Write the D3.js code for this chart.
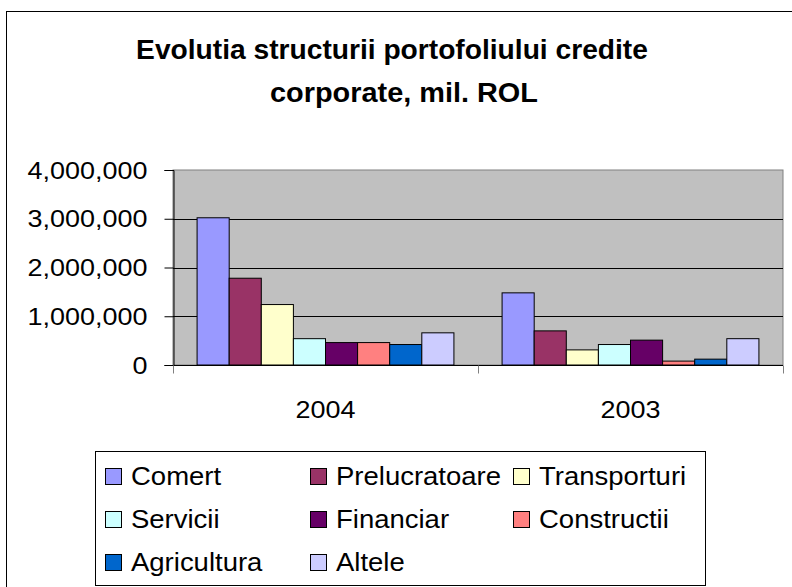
<!DOCTYPE html>
<html>
<head>
<meta charset="utf-8">
<script src="https://cdn.jsdelivr.net/npm/d3@7/dist/d3.min.js"></script>
<style>
  html, body { margin: 0; padding: 0; background: #fff; }
  svg { display: block; }
  text { font-family: "Liberation Sans", Arial, sans-serif; fill: #000; }
</style>
</head>
<body>
<svg id="chart" width="792" height="587"></svg>
<script>
// ---- data ----
const titleLines = ["Evolutia structurii portofoliului credite", "corporate, mil. ROL"];
const categories = ["2004", "2003"];
const seriesNames = ["Comert", "Prelucratoare", "Transporturi", "Servicii", "Financiar", "Constructii", "Agricultura", "Altele"];
const seriesColors = ["#9999FF", "#993366", "#FFFFCC", "#CCFFFF", "#660066", "#FF8080", "#0066CC", "#CCCCFF"];
const values2004 = [3020000, 1780000, 1240000, 540000, 460000, 460000, 420000, 660000];
const values2003 = [1480000, 700000, 310000, 420000, 510000, 80000, 120000, 540000];
const yTicks = [0, 1000000, 2000000, 3000000, 4000000];

const valuesByCat = { "2004": values2004, "2003": values2003 };

// ---- layout ----
const svg = d3.select("#chart");
const plot = { x0: 173, x1: 783, y0: 170, y1: 365 };

// outer border
svg.append("rect").attr("x", 6.5).attr("y", 11.5).attr("width", 800).attr("height", 600)
  .attr("fill", "#fff").attr("stroke", "#000").attr("stroke-width", 1);

function stretchedText(parent, x, y, str, anchor, size, weight, sx) {
  const g = parent.append("g").attr("transform", `translate(${x},${y}) scale(${sx},1)`);
  g.append("text").attr("x", 0).attr("y", 0).attr("text-anchor", anchor)
    .style("font-size", size + "px").style("font-weight", weight || "normal").text(str);
  return g;
}

// title
stretchedText(svg, 392, 59, titleLines[0], "middle", 27.5, "bold", 1.025);
stretchedText(svg, 404, 102, titleLines[1], "middle", 27.5, "bold", 1.05);

// scales
const x0 = d3.scaleBand().domain(categories).range([plot.x0, plot.x1]).paddingInner(0).paddingOuter(0);
const gap = x0.bandwidth() * 0.75 / 9.5;
const x1 = d3.scaleBand().domain(seriesNames).range([gap, x0.bandwidth() - gap]).padding(0);
const y = d3.scaleLinear().domain([0, 4000000]).range([plot.y1, plot.y0]);
const color = d3.scaleOrdinal().domain(seriesNames).range(seriesColors);

// plot background
svg.append("rect").attr("x", plot.x0).attr("y", plot.y0)
  .attr("width", plot.x1 - plot.x0).attr("height", plot.y1 - plot.y0)
  .attr("fill", "#C0C0C0").attr("stroke", "#808080").attr("stroke-width", 1);

// gridlines
svg.append("g").selectAll("line").data(yTicks.filter(d => d > 0 && d < 4000000)).join("line")
  .attr("x1", plot.x0).attr("x2", plot.x1)
  .attr("y1", d => Math.round(y(d)) + 0.5).attr("y2", d => Math.round(y(d)) + 0.5)
  .attr("stroke", "#000").attr("stroke-width", 1);

// bars
const groups = svg.append("g").selectAll("g").data(categories).join("g")
  .attr("transform", d => `translate(${x0(d)},0)`);
groups.selectAll("rect").data(c => seriesNames.map((s, i) => ({ s, v: valuesByCat[c][i] }))).join("rect")
  .attr("x", d => x1(d.s)).attr("width", x1.bandwidth())
  .attr("y", d => y(d.v)).attr("height", d => y(0) - y(d.v))
  .attr("fill", d => color(d.s)).attr("stroke", "#000").attr("stroke-width", 1);

// y axis
const yAxis = svg.append("g").attr("transform", `translate(${plot.x0 + 0.5},0)`)
  .call(d3.axisLeft(y).tickValues(yTicks).tickFormat(d3.format(",")).tickSize(9).tickPadding(0));
yAxis.select(".domain").attr("stroke", "#000");
yAxis.selectAll(".tick line").attr("stroke", "#000");
yAxis.selectAll(".tick text")
  .attr("x", 0).attr("dy", null).attr("y", 8)
  .attr("transform", `translate(-26,0) scale(1.1,1)`)
  .style("font-size", "24.5px").attr("fill", "#000").attr("font-family", null);

// x axis
const xAxis = svg.append("g").attr("transform", `translate(0,${plot.y1 + 0.5})`);
xAxis.append("line").attr("x1", plot.x0).attr("x2", plot.x1).attr("y1", 0).attr("y2", 0).attr("stroke", "#000");
const xTickPos = [plot.x0, ...categories.slice(1).map(c => x0(c)), plot.x1];
xAxis.selectAll("line.tk").data(xTickPos).join("line").attr("class", "tk")
  .attr("x1", d => Math.round(d) + 0.5).attr("x2", d => Math.round(d) + 0.5)
  .attr("y1", 0).attr("y2", 8).attr("stroke", "#808080");
categories.forEach(c => {
  stretchedText(svg, x0(c) + x0.bandwidth() / 2, 418, c, "middle", 24.5, "normal", 1.1);
});

// legend
svg.append("rect").attr("x", 95.5).attr("y", 451.5).attr("width", 610).attr("height", 134)
  .attr("fill", "#fff").attr("stroke", "#000").attr("stroke-width", 1);
const colX = [105, 310, 513];
const rowY = [485, 528, 571];
seriesNames.forEach((s, i) => {
  const cx = colX[i % 3], ry = rowY[Math.floor(i / 3)];
  svg.append("rect").attr("x", cx + 0.5).attr("y", ry - 16.5).attr("width", 16).attr("height", 16)
    .attr("fill", color(s)).attr("stroke", "#000").attr("stroke-width", 1);
  stretchedText(svg, cx + 26, ry, s, "start", 25, "normal", 1.1);
});
</script>
</body>
</html>
